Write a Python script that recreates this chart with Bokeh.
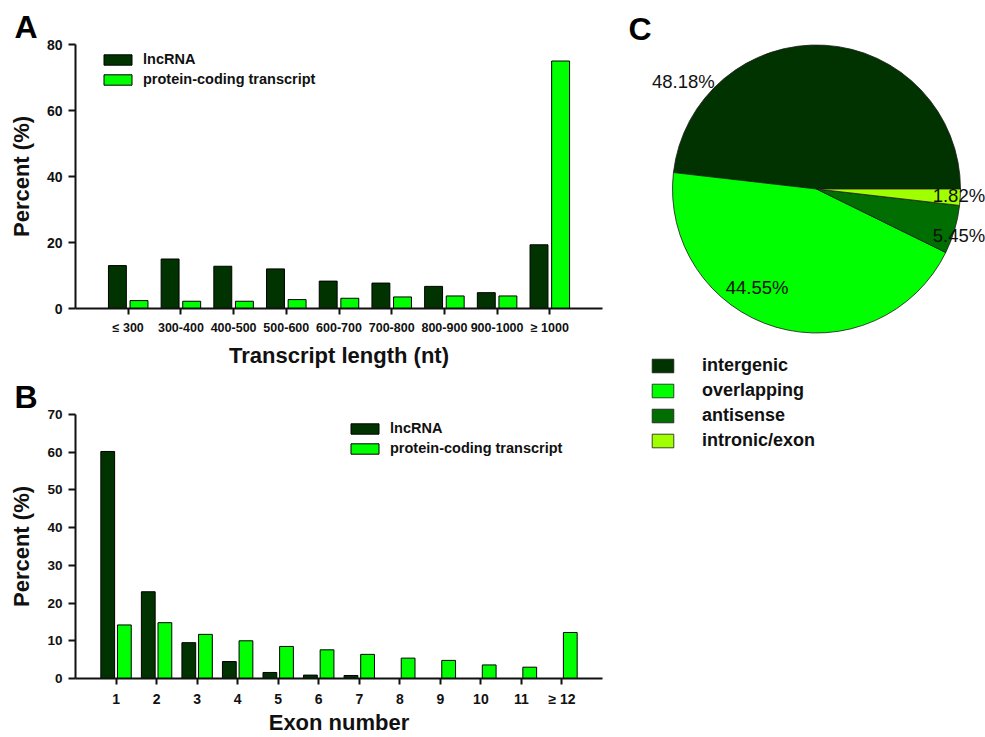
import math

from bokeh.core.properties import value
from bokeh.embed import file_html
from bokeh.layouts import column, row
from bokeh.models import FixedTicker, Label, Legend, LegendItem, Range1d
from bokeh.plotting import figure
from bokeh.resources import INLINE

# ---- data -------------------------------------------------------------
# A: transcript length distribution (% of transcripts)
length_bins = ["≤ 300", "300-400", "400-500", "500-600", "600-700",
               "700-800", "800-900", "900-1000", "≥ 1000"]
length_lncrna = [13.0, 15.0, 12.8, 12.0, 8.3, 7.7, 6.7, 4.8, 19.3]
length_coding = [2.4, 2.2, 2.2, 2.7, 3.1, 3.5, 3.8, 3.8, 75.0]

# B: exon number distribution (% of transcripts)
exon_bins = ["1", "2", "3", "4", "5", "6", "7", "8", "9", "10", "11", "≥ 12"]
exon_lncrna = [60.2, 23.0, 9.5, 4.5, 1.6, 0.9, 0.8, 0, 0, 0, 0, 0]
exon_coding = [14.2, 14.8, 11.7, 10.0, 8.5, 7.6, 6.4, 5.4, 4.8, 3.6, 3.0, 12.2]

# C: lncRNA classes (%)
lnc_classes = ["intergenic", "overlapping", "antisense", "intronic/exon"]
lnc_class_pct = [48.18, 44.55, 5.45, 1.82]

# ---- styling ----------------------------------------------------------
FONT = "Liberation Sans"
DARK = "#003300"
BRIGHT = "#00ff00"
CLASS_COLORS = ["#003300", "#00ff00", "#006e00", "#a0ff00"]
BAR_WIDTH = 0.34
BAR_OFFSET = 0.205


def bar_panel(letter, cats, lnc, cod, y_end, y_step, height, border_bottom,
              x_tick_size, y_tick_size, legend_xy, xlabel, xlabel_standoff):
    n = len(cats)
    p = figure(width=610, height=height, output_backend="svg",
               toolbar_location=None,
               x_range=Range1d(0, n + 1), y_range=Range1d(0, y_end),
               min_border_left=75, min_border_right=8,
               min_border_top=44, min_border_bottom=border_bottom)
    p.grid.visible = False
    p.outline_line_color = None
    p.background_fill_color = "white"
    p.border_fill_color = "white"

    # panel letter, drawn as the plot title in the top-left corner
    p.title.text = letter
    p.title.align = "left"
    p.title.offset = -61
    p.title.standoff = 0
    p.title.text_font = FONT
    p.title.text_font_style = "bold"
    p.title.text_font_size = "32px"
    p.title.text_color = "black"

    idx = list(range(1, n + 1))
    r_lnc = p.vbar(x=[i - BAR_OFFSET for i in idx], top=lnc, width=BAR_WIDTH,
                   fill_color=DARK, line_color="black", line_width=1)
    r_cod = p.vbar(x=[i + BAR_OFFSET for i in idx], top=cod, width=BAR_WIDTH,
                   fill_color=BRIGHT, line_color="black", line_width=1)

    # axes
    for ax in (p.xaxis[0], p.yaxis[0]):
        ax.axis_line_width = 2
        ax.axis_line_color = "#111111"
        ax.major_tick_line_width = 2
        ax.major_tick_line_color = "#111111"
        ax.major_tick_in = 0
        ax.minor_tick_in = 0
        ax.minor_tick_out = 0
        ax.major_label_text_font = FONT
        ax.major_label_text_font_style = "bold"
        ax.major_label_text_color = "#111111"
        ax.axis_label_text_font = FONT
        ax.axis_label_text_font_style = "bold"
        ax.axis_label_text_font_size = "22px"
        ax.axis_label_text_color = "#111111"

    p.xaxis.ticker = FixedTicker(ticks=idx)
    p.xaxis.major_label_overrides = {i: c for i, c in zip(idx, cats)}
    p.xaxis.major_tick_out = 6
    p.xaxis.major_label_standoff = 6
    p.xaxis.major_label_text_font_size = x_tick_size
    p.xaxis.axis_label = xlabel
    p.xaxis.axis_label_standoff = xlabel_standoff
    p.xaxis.axis_label_text_line_height = 1.0

    p.yaxis.ticker = FixedTicker(ticks=list(range(0, y_end + 1, y_step)))
    p.yaxis.major_tick_out = 7
    p.yaxis.major_label_standoff = 6
    p.yaxis.major_label_text_font_size = y_tick_size
    p.yaxis.axis_label = "Percent (%)"
    p.yaxis.axis_label_standoff = 10

    legend = Legend(items=[LegendItem(label="lncRNA", renderers=[r_lnc]),
                           LegendItem(label="protein-coding transcript",
                                      renderers=[r_cod])],
                    location=legend_xy, glyph_width=35, glyph_height=13,
                    label_height=13, label_standoff=8, spacing=4, padding=0,
                    border_line_color=None, background_fill_alpha=0,
                    label_text_font=FONT, label_text_font_style="bold",
                    label_text_font_size="14.5px", label_text_color="#111111")
    p.add_layout(legend)
    return p


pA = bar_panel("A", length_bins, length_lncrna, length_coding, 80, 20,
               height=370, border_bottom=62, x_tick_size="12.5px",
               y_tick_size="14px", legend_xy=(25, 221),
               xlabel="Transcript length (nt)", xlabel_standoff=5)
pB = bar_panel("B", exon_bins, exon_lncrna, exon_coding, 70, 10,
               height=367, border_bottom=59, x_tick_size="14px",
               y_tick_size="13.5px", legend_xy=(272, 222),
               xlabel="Exon number", xlabel_standoff=0)

# ---- C: pie of lncRNA classes ----------------------------------------
C_W, C_H = 375, 737
PIE_CX, PIE_CY, PIE_R = 206, 188.5, 144   # centre (from top-left) and radius, px
pC = figure(width=C_W, height=C_H, output_backend="svg", toolbar_location=None,
            x_range=Range1d(-PIE_CX / PIE_R, (C_W - PIE_CX) / PIE_R),
            y_range=Range1d(-(C_H - PIE_CY) / PIE_R, PIE_CY / PIE_R),
            min_border=0, x_axis_type=None, y_axis_type=None)
pC.grid.visible = False
pC.outline_line_color = None

total = sum(lnc_class_pct)
starts, ends = [], []
acc = 0.0
for v in lnc_class_pct:
    starts.append(2 * math.pi * acc / total)
    acc += v
    ends.append(2 * math.pi * acc / total)

wedges = pC.wedge(x=0, y=0, radius=1, start_angle=starts, end_angle=ends,
                  fill_color=CLASS_COLORS, line_color="#1a1a1a", line_width=0.8)

# percentage labels: polar placement (degrees, radius as fraction of pie radius)
label_angle = [141.0, 239.0, -18.0, -2.6]
label_radius = [1.19, 0.80, 1.04, 0.99]
lx = [r * math.cos(math.radians(a)) for a, r in zip(label_angle, label_radius)]
ly = [r * math.sin(math.radians(a)) for a, r in zip(label_angle, label_radius)]
pC.text(x=lx, y=ly, text=[f"{v:.2f}%" for v in lnc_class_pct],
        text_align="center", text_baseline="middle",
        text_font=value(FONT), text_font_size=value("18.5px"),
        text_color="#111111")

legC = Legend(items=[LegendItem(label=name, renderers=[wedges], index=i)
                     for i, name in enumerate(lnc_classes)],
              location=(39, 286), glyph_width=27, glyph_height=17,
              label_height=17, label_standoff=26, spacing=4, padding=0,
              border_line_color=None, background_fill_alpha=0,
              label_text_font=FONT, label_text_font_style="bold",
              label_text_font_size="18px", label_text_color="#111111")
pC.add_layout(legC)
pC.add_layout(Label(x=18, y=C_H - 28, x_units="screen", y_units="screen",
                    text="C", text_font=FONT, text_font_style="bold",
                    text_font_size="32px", text_baseline="middle",
                    text_color="black"))

layout = row(column(pA, pB), pC)
open("out.html", "w").write(file_html(layout, INLINE))
